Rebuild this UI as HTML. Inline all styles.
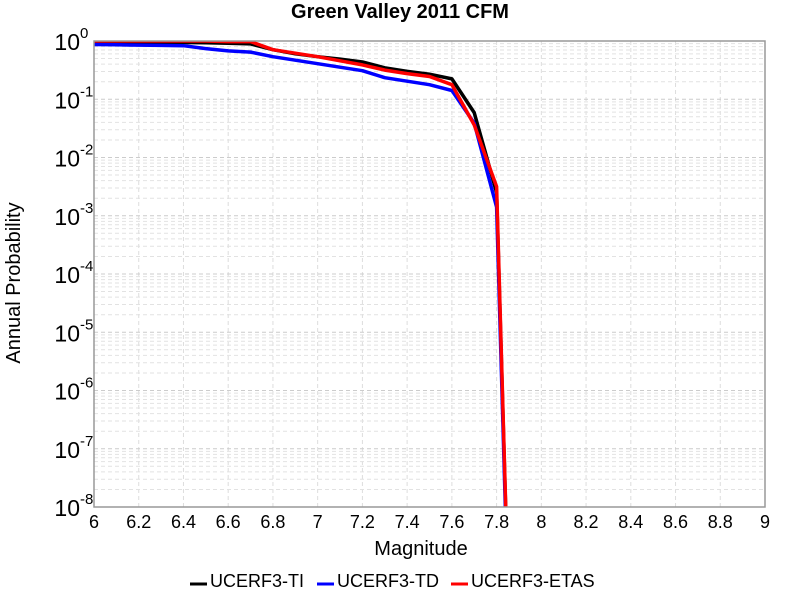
<!DOCTYPE html>
<html><head><meta charset="utf-8"><style>
html,body{margin:0;padding:0;background:#fff;overflow:hidden;width:800px;height:600px;}
svg{display:block;}
svg text{font-family:"Liberation Sans",sans-serif;}
</style></head><body>
<svg id="chart" width="800" height="600" xmlns="http://www.w3.org/2000/svg">
<text x="400" y="18" text-anchor="middle" font-size="20" font-weight="bold">Green Valley 2011 CFM</text>
<text x="421" y="555" text-anchor="middle" font-size="20">Magnitude</text>
<text transform="translate(20,283) rotate(-90)" text-anchor="middle" font-size="20">Annual Probability</text>
<g id="grid"></g>
<g id="ticks"></g>
<defs><clipPath id="clip"><rect x="94" y="41" width="671" height="466"/></clipPath></defs>
<g id="series" clip-path="url(#clip)"></g>
<rect x="94" y="41" width="671" height="466" fill="none" stroke="#999" stroke-width="1.5"/>
<g id="legend"></g>
</svg>
<script>
const mags = [6.0,6.1,6.2,6.3,6.4,6.5,6.6,6.7,6.8,6.9,7.0,7.1,7.2,7.3,7.4,7.5,7.6,7.7,7.8,7.9];
const logTI   = [-0.02,-0.02,-0.02,-0.02,-0.025,-0.03,-0.04,-0.05,-0.15,-0.22,-0.27,-0.31,-0.36,-0.46,-0.52,-0.57,-0.65,-1.23,-2.6,-16];
const logTD   = [-0.06,-0.065,-0.07,-0.075,-0.08,-0.13,-0.17,-0.19,-0.27,-0.33,-0.39,-0.45,-0.51,-0.63,-0.69,-0.75,-0.85,-1.41,-2.85,-16];
const logETAS = [0.0,0.0,0.0,0.0,0.0,0.0,-0.01,-0.01,-0.15,-0.21,-0.27,-0.34,-0.41,-0.5,-0.56,-0.61,-0.75,-1.44,-2.5,-16];
const xTicks = [6,6.2,6.4,6.6,6.8,7,7.2,7.4,7.6,7.8,8,8.2,8.4,8.6,8.8,9];
const yDecades = [0,-1,-2,-3,-4,-5,-6,-7,-8];
const seriesNames = ["UCERF3-TI","UCERF3-TD","UCERF3-ETAS"];
const seriesColors = ["#000","#00f","#f00"];

const X0=94,X1=765,Y0=41,Y1=507;
const LOGMIN=-8.1;
const xs = v => X0 + (v-6)/3*(X1-X0);
const ys = lg => Y0 + (0-lg)/8*(Y1-Y0);
const NS="http://www.w3.org/2000/svg";
function mk(tag, attrs, parent){const e=document.createElementNS(NS,tag);for(const k in attrs)e.setAttribute(k,attrs[k]);parent.appendChild(e);return e;}
const grid=document.getElementById('grid'), ticks=document.getElementById('ticks');
xTicks.forEach(t=>{
  const l=mk('line',{x1:xs(t),x2:xs(t),y1:Y0,y2:Y1,stroke:'#ddd','stroke-dasharray':'4,3'},grid);
  
  
  const tx=mk('text',{x:xs(t),y:528,'text-anchor':'middle','font-size':18},ticks);
  tx.textContent=String(t);
  
  
});
yDecades.forEach(d=>{
  for(let m=1;m<=9;m++){
    const lg=d+Math.log10(m);
    if(lg>0.001||lg<-8.001)continue;
    const l=mk('line',{x1:X0,x2:X1,y1:ys(lg),y2:ys(lg),stroke:m===1?'#ccc':'#e2e2e2','stroke-dasharray':'4,3'},grid);
    
    
  }
  const tx=mk('text',{x:80,y:ys(d)+9,'text-anchor':'end','font-size':23},ticks);
  tx.textContent='10';
  
  
  const ex=mk('text',{x:80,y:ys(d)-3,'font-size':15},ticks);
  ex.textContent=d===0?' 0':String(d);
  
  
});
function clippedPoints(arr){
  const out=[];
  for(let j=0;j<mags.length;j++){
    if(arr[j]>=LOGMIN){out.push([mags[j],arr[j]]);continue;}
    if(j>0 && arr[j-1]>=LOGMIN){
      const f=(arr[j-1]-LOGMIN)/(arr[j-1]-arr[j]);
      out.push([mags[j-1]+f*(mags[j]-mags[j-1]),LOGMIN]);
    }
    break;
  }
  return out;
}
const sg=document.getElementById('series');
[logTI,logTD,logETAS].forEach((arr,i)=>{
  const pts=clippedPoints(arr).map(p=>xs(p[0]).toFixed(1)+','+ys(p[1]).toFixed(1)).join(' ');
  const p=mk('polyline',{points:pts,fill:'none',stroke:seriesColors[i],'stroke-width':3.5,'stroke-linejoin':'round'},sg);
  
  
});
const lg=document.getElementById('legend');
const lx=[190,317,451];
seriesNames.forEach((n,i)=>{
  const g=mk('g',{},lg);
  
  
  mk('line',{x1:lx[i],x2:lx[i]+17,y1:584,y2:584,stroke:seriesColors[i],'stroke-width':3},g);
  const t=mk('text',{x:lx[i]+20,y:587,'font-size':18},g);
  t.textContent=n;
});
</script>
</body></html>
